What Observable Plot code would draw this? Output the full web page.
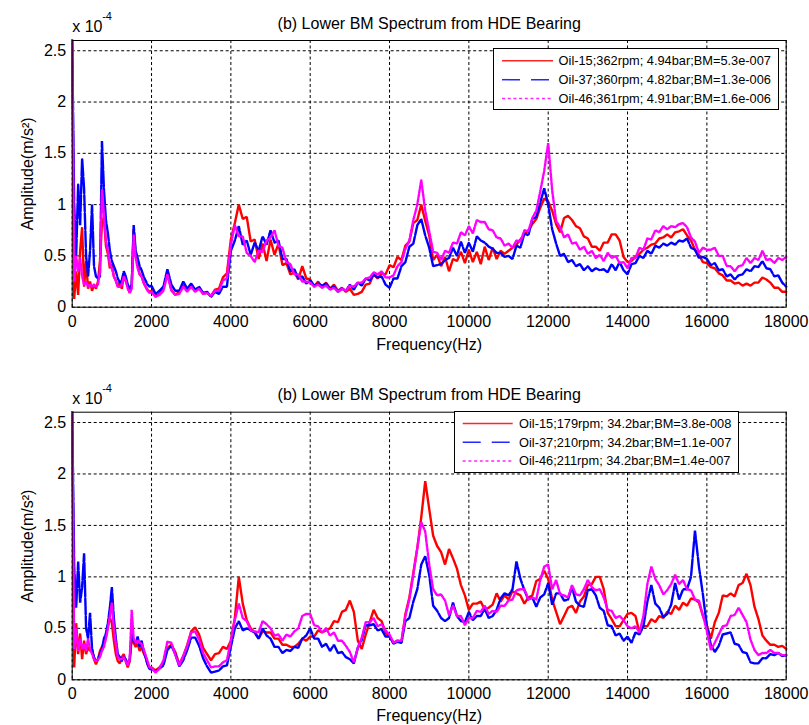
<!DOCTYPE html>
<html>
<head>
<meta charset="utf-8">
<script src="https://cdn.jsdelivr.net/npm/d3@7"></script>
<script src="https://cdn.jsdelivr.net/npm/@observablehq/plot@0.6"></script>
<style>
  body { margin: 0; background: #fff; font-family: Arial, "Liberation Sans", sans-serif; }
  .panel { position: relative; width: 809px; }
  .panel svg { display: block; }
  .legend { position: absolute; }
</style>
</head>
<body>
<div id="top" class="panel" style="height:360px"></div>
<div id="bottom" class="panel" style="height:365px"></div>
<script>
// ---------- sampling grid (Hz) ----------
const freqLow = [0,50,100,150,200,250,300,350,400,450,500,550,600,650,700,750,800,850,900,950,
  1000,1050,1100,1150,1200,1250,1300,1350,1400,1450,1500,1550,1600,1650,1700,1750,1800,1850,1900,1950];
const freqHigh = [2000,2100,2200,2300,2400,2500,2600,2700,2800,2900,3000,3100,3200,3300,3400,3500,3600,3700,3800,3900,
  4000,4100,4200,4300,4400,4500,4600,4700,4800,4900,5000,5100,5200,5300,5400,5500,5600,5700,5800,5900,
  6000,6100,6200,6300,6400,6500,6600,6700,6800,6900,7000,7100,7200,7300,7400,7500,7600,7700,7800,7900,
  8000,8100,8200,8300,8400,8500,8600,8700,8800,8900,9000,9100,9200,9300,9400,9500,9600,9700,9800,9900,
  10000,10100,10200,10300,10400,10500,10600,10700,10800,10900,11000,11100,11200,11300,11400,11500,11600,11700,11800,11900,
  12000,12100,12200,12300,12400,12500,12600,12700,12800,12900,13000,13100,13200,13300,13400,13500,13600,13700,13800,13900,
  14000,14100,14200,14300,14400,14500,14600,14700,14800,14900,15000,15100,15200,15300,15400,15500,15600,15700,15800,15900,
  16000,16100,16200,16300,16400,16500,16600,16700,16800,16900,17000,17100,17200,17300,17400,17500,17600,17700,17800,17900,
  18000];
const freq = freqLow.concat(freqHigh);

// ---------- top panel amplitudes (x 1e-4 m/s^2) ----------
const topOil15 = [2.6,0.08,0.35,0.12,0.55,0.78,0.2,0.45,0.18,0.25,0.16,0.22,0.18,0.25,0.45,0.82,0.88,0.6,0.52,0.38,
  0.42,0.3,0.26,0.2,0.24,0.18,0.3,0.26,0.2,0.14,0.2,0.76,0.5,0.42,0.32,0.3,0.24,0.2,0.17,0.15,
  0.16,0.11,0.13,0.18,0.33,0.17,0.12,0.15,0.21,0.17,
  0.22,0.16,0.19,0.13,0.14,0.11,0.17,0.18,0.29,0.33,
  0.66,0.82,1.0,0.86,0.88,0.64,0.66,0.47,0.62,0.45,
  0.66,0.51,0.62,0.41,0.43,0.32,0.34,0.27,0.4,0.28,
  0.27,0.2,0.25,0.19,0.24,0.18,0.22,0.16,0.19,0.15,
  0.18,0.12,0.13,0.15,0.22,0.23,0.32,0.28,0.33,0.32,
  0.41,0.39,0.49,0.46,0.6,0.64,0.82,0.85,1.0,0.84,
  0.7,0.46,0.51,0.4,0.49,0.35,0.47,0.45,0.54,0.43,
  0.56,0.44,0.54,0.42,0.59,0.46,0.58,0.47,0.55,0.52,
  0.55,0.58,0.61,0.66,0.71,0.75,0.81,0.86,0.97,1.06,
  1.03,0.94,0.81,0.73,0.87,0.89,0.85,0.79,0.77,0.69,
  0.67,0.59,0.59,0.55,0.63,0.63,0.71,0.71,0.65,0.49,
  0.44,0.45,0.49,0.52,0.56,0.58,0.61,0.62,0.67,0.68,
  0.71,0.68,0.73,0.74,0.76,0.7,0.65,0.56,0.51,0.44,
  0.43,0.39,0.38,0.33,0.31,0.26,0.26,0.23,0.24,0.21,
  0.23,0.21,0.24,0.24,0.29,0.27,0.24,0.19,0.19,0.15,
  0.15];
const topOil37 = [2.6,1.0,0.5,1.2,0.8,1.45,1.15,0.5,0.3,0.55,1.0,0.4,0.3,0.28,0.3,1.62,1.15,0.85,0.72,0.55,
  0.45,0.4,0.35,0.28,0.24,0.26,0.35,0.3,0.22,0.18,0.22,0.8,0.55,0.48,0.4,0.36,0.3,0.26,0.22,0.2,
  0.21,0.13,0.16,0.2,0.37,0.22,0.16,0.16,0.25,0.18,
  0.23,0.17,0.2,0.14,0.15,0.1,0.15,0.13,0.2,0.2,
  0.55,0.65,0.79,0.61,0.65,0.51,0.63,0.55,0.69,0.61,
  0.75,0.63,0.65,0.47,0.47,0.35,0.37,0.28,0.3,0.23,
  0.26,0.21,0.23,0.21,0.23,0.18,0.2,0.15,0.18,0.16,
  0.22,0.17,0.24,0.21,0.28,0.26,0.32,0.29,0.3,0.22,
  0.19,0.28,0.28,0.4,0.44,0.59,0.62,0.8,0.86,0.7,
  0.58,0.4,0.41,0.42,0.46,0.48,0.58,0.5,0.64,0.53,
  0.63,0.54,0.69,0.65,0.63,0.59,0.57,0.53,0.53,0.49,
  0.5,0.47,0.6,0.58,0.72,0.7,0.86,0.88,1.02,1.16,
  1.0,0.76,0.62,0.5,0.52,0.44,0.46,0.4,0.42,0.36,
  0.4,0.35,0.38,0.36,0.37,0.34,0.42,0.36,0.44,0.36,
  0.32,0.42,0.43,0.5,0.48,0.55,0.52,0.6,0.58,0.62,
  0.6,0.63,0.61,0.65,0.64,0.67,0.58,0.56,0.48,0.49,
  0.47,0.41,0.43,0.36,0.37,0.3,0.32,0.27,0.31,0.32,
  0.37,0.35,0.4,0.39,0.45,0.38,0.37,0.3,0.31,0.24,
  0.2];
const topOil46 = [2.6,0.25,0.5,0.35,0.48,0.3,0.22,0.25,0.2,0.22,0.2,0.22,0.2,0.22,0.35,1.15,0.9,0.65,0.55,0.42,
  0.38,0.3,0.26,0.2,0.2,0.22,0.3,0.26,0.18,0.14,0.18,0.7,0.48,0.38,0.32,0.3,0.24,0.2,0.16,0.14,
  0.15,0.1,0.12,0.16,0.32,0.16,0.12,0.13,0.2,0.15,
  0.2,0.15,0.18,0.13,0.14,0.11,0.16,0.16,0.26,0.28,
  0.61,0.8,0.69,0.69,0.53,0.5,0.44,0.55,0.54,0.65,
  0.68,0.75,0.6,0.58,0.44,0.42,0.32,0.32,0.25,0.25,
  0.24,0.2,0.22,0.19,0.21,0.17,0.19,0.15,0.18,0.16,
  0.21,0.2,0.24,0.24,0.28,0.29,0.34,0.32,0.35,0.29,
  0.29,0.31,0.4,0.44,0.57,0.65,0.85,1.0,1.24,0.94,
  0.74,0.54,0.53,0.46,0.55,0.53,0.63,0.62,0.73,0.7,
  0.79,0.72,0.85,0.83,0.83,0.76,0.75,0.68,0.67,0.6,
  0.62,0.58,0.65,0.64,0.75,0.74,0.87,0.94,1.13,1.33,
  1.6,1.14,0.84,0.78,0.68,0.71,0.62,0.63,0.56,0.59,
  0.52,0.55,0.48,0.51,0.45,0.53,0.48,0.5,0.43,0.44,
  0.38,0.48,0.48,0.58,0.56,0.67,0.66,0.75,0.73,0.79,
  0.76,0.79,0.78,0.81,0.82,0.78,0.68,0.64,0.53,0.58,
  0.56,0.56,0.58,0.5,0.5,0.4,0.4,0.35,0.4,0.41,
  0.48,0.43,0.48,0.46,0.55,0.46,0.47,0.43,0.48,0.46,
  0.49];

// ---------- bottom panel amplitudes (x 1e-4 m/s^2) ----------
const botOil15 = [2.6,0.12,0.55,0.25,0.45,0.2,0.38,0.25,0.32,0.28,0.3,0.2,0.15,0.2,0.28,0.32,0.35,0.42,0.52,0.6,
  0.55,0.38,0.25,0.18,0.16,0.22,0.25,0.18,0.12,0.18,0.4,0.36,0.32,0.35,0.28,0.32,0.26,0.22,0.15,0.12,
  0.12,0.09,0.12,0.16,0.31,0.34,0.27,0.15,0.23,0.34,
  0.47,0.51,0.44,0.31,0.25,0.19,0.25,0.26,0.32,0.3,
  0.38,0.6,1.0,0.74,0.58,0.5,0.46,0.4,0.47,0.46,
  0.46,0.4,0.4,0.34,0.34,0.32,0.32,0.35,0.4,0.38,
  0.42,0.42,0.48,0.46,0.48,0.5,0.57,0.56,0.66,0.68,
  0.77,0.66,0.38,0.3,0.44,0.56,0.68,0.6,0.57,0.46,
  0.42,0.36,0.38,0.36,0.64,0.8,1.04,1.28,1.58,1.93,
  1.66,1.4,1.3,1.24,1.12,1.27,1.18,1.08,0.92,0.82,
  0.68,0.74,0.74,0.76,0.68,0.7,0.73,0.84,0.76,0.82,
  0.78,0.86,0.84,0.82,0.74,0.8,0.82,0.96,0.98,1.06,
  0.98,0.78,0.66,0.54,0.62,0.7,0.72,0.65,0.76,0.81,
  0.92,0.93,1.0,1.0,0.88,0.65,0.59,0.52,0.52,0.58,
  0.64,0.65,0.62,0.46,0.52,0.52,0.59,0.56,0.62,0.6,
  0.66,0.64,0.72,0.68,0.75,0.72,0.79,0.78,0.75,0.62,
  0.53,0.4,0.56,0.65,0.82,0.81,0.84,0.81,0.92,0.94,
  1.03,0.92,0.71,0.59,0.43,0.38,0.34,0.34,0.32,0.33,
  0.3];
const botOil37 = [2.6,1.1,0.7,1.15,0.75,0.9,1.23,0.5,0.4,0.65,0.3,0.22,0.18,0.2,0.25,0.3,0.4,0.45,0.55,0.7,
  0.9,0.6,0.4,0.25,0.22,0.18,0.22,0.2,0.15,0.2,0.45,0.38,0.35,0.42,0.32,0.38,0.28,0.22,0.15,0.1,
  0.11,0.08,0.11,0.14,0.29,0.33,0.25,0.13,0.19,0.29,
  0.41,0.41,0.33,0.21,0.13,0.07,0.08,0.09,0.13,0.14,
  0.32,0.5,0.57,0.48,0.5,0.48,0.46,0.4,0.5,0.43,
  0.4,0.32,0.32,0.26,0.29,0.28,0.32,0.31,0.4,0.43,
  0.5,0.4,0.4,0.32,0.35,0.28,0.34,0.26,0.27,0.22,
  0.2,0.16,0.31,0.39,0.53,0.53,0.54,0.48,0.49,0.42,
  0.42,0.35,0.37,0.36,0.57,0.6,0.76,0.88,1.12,1.2,
  1.02,0.72,0.67,0.6,0.57,0.6,0.75,0.62,0.57,0.56,
  0.66,0.58,0.62,0.62,0.69,0.6,0.62,0.68,0.79,0.84,
  0.82,0.88,1.15,0.98,0.87,0.78,0.8,0.71,0.8,0.83,
  0.94,0.73,0.84,0.84,0.77,0.78,0.9,0.76,0.72,0.71,
  0.87,0.88,0.82,0.7,0.67,0.53,0.52,0.43,0.45,0.38,
  0.42,0.36,0.46,0.44,0.52,0.76,0.92,0.74,0.7,0.61,
  0.64,0.73,0.94,0.78,0.88,0.88,1.0,1.45,1.1,0.83,
  0.52,0.34,0.27,0.33,0.44,0.45,0.46,0.35,0.34,0.27,
  0.26,0.17,0.16,0.16,0.21,0.21,0.25,0.24,0.26,0.23,
  0.24];
const botOil46 = [2.6,0.3,0.5,0.28,0.4,0.3,0.35,0.28,0.4,0.3,0.25,0.2,0.18,0.2,0.22,0.28,0.32,0.4,0.5,0.62,
  0.75,0.5,0.35,0.22,0.2,0.2,0.22,0.18,0.14,0.2,0.68,0.4,0.36,0.38,0.36,0.35,0.3,0.24,0.18,0.12,
  0.12,0.07,0.11,0.19,0.37,0.36,0.24,0.14,0.23,0.33,
  0.46,0.47,0.39,0.26,0.19,0.12,0.13,0.13,0.17,0.19,
  0.38,0.58,0.74,0.6,0.57,0.48,0.47,0.46,0.57,0.54,
  0.5,0.43,0.44,0.38,0.44,0.42,0.47,0.5,0.62,0.64,
  0.64,0.53,0.52,0.46,0.5,0.43,0.46,0.38,0.38,0.33,
  0.27,0.17,0.31,0.41,0.56,0.56,0.6,0.52,0.54,0.48,
  0.44,0.36,0.38,0.38,0.62,0.78,1.02,1.28,1.53,1.44,
  1.12,0.88,0.82,0.83,0.77,0.63,0.72,0.62,0.62,0.53,
  0.6,0.6,0.67,0.66,0.72,0.64,0.67,0.66,0.72,0.72,
  0.77,0.78,0.87,0.88,0.88,0.78,0.8,0.78,0.97,1.1,
  1.12,0.88,0.97,0.83,0.82,0.8,0.92,0.83,0.82,0.88,
  0.97,0.9,0.87,0.88,0.8,0.68,0.67,0.6,0.62,0.58,
  0.52,0.5,0.52,0.46,0.62,0.93,1.1,0.98,0.92,0.83,
  0.87,0.93,1.02,0.93,0.97,0.88,0.87,0.78,0.77,0.63,
  0.47,0.29,0.36,0.44,0.52,0.53,0.62,0.63,0.7,0.63,
  0.56,0.39,0.29,0.24,0.26,0.26,0.29,0.26,0.26,0.24,
  0.24];

// ---------- labels & ticks ----------
const titleText = "(b) Lower BM Spectrum from HDE Bearing";
const xLabel = "Frequency(Hz)";
const yLabel = "Amplitude(m/s²)";
const xTicks = [0,2000,4000,6000,8000,10000,12000,14000,16000,18000];
const yTicks = [0,0.5,1,1.5,2,2.5];
const topLegend = ["Oil-15;362rpm; 4.94bar;BM=5.3e-007","Oil-37;360rpm; 4.82bar;BM=1.3e-006","Oil-46;361rpm; 4.91bar;BM=1.6e-006"];
const botLegend = ["Oil-15;179rpm; 34.2bar;BM=3.8e-008","Oil-37;210rpm; 34.2bar;BM=1.1e-007","Oil-46;211rpm; 34.2bar;BM=1.4e-007"];
const colors = ["#ff0000","#0000ff","#ff00ff"];
const legendDashes = [null, "18,11", "3,2.7"];
const lineDashes = [null, "16,2", "3,1.5"];

const FONT = "Arial, 'Liberation Sans', sans-serif";

function makePanel(el, seriesList, legendLabels, cfg) {
  const marks = [
    Plot.gridX(xTicks, {stroke: "#000", strokeOpacity: 1, strokeWidth: 1, strokeDasharray: "3,2.5"}),
    Plot.gridY(yTicks, {stroke: "#000", strokeOpacity: 1, strokeWidth: 1, strokeDasharray: "3,2.5"})
  ];
  seriesList.forEach((vals, i) => {
    const n = Math.min(vals.length, freq.length);
    const rows = d3.range(n).map(k => ({f: freq[k], v: vals[k]}));
    marks.push(Plot.lineY(rows, {x: "f", y: "v", stroke: colors[i], strokeWidth: 2.4,
      strokeLinejoin: "miter", strokeDasharray: lineDashes[i] || undefined}));
  });
  marks.push(
    Plot.frame({stroke: "#000", strokeWidth: 1}),
    Plot.axisX(xTicks, {tickSize: 0, tickPadding: 8, tickFormat: d => String(d), label: null, fontSize: 16}),
    Plot.axisY(yTicks, {tickSize: 0, tickPadding: 6, tickFormat: d => String(d), label: null, fontSize: 16}),
    Plot.text([titleText], {text: d => d, frameAnchor: "top", dy: -12, lineAnchor: "bottom", fontSize: 16}),
    Plot.text(["x 10"], {text: d => d, frameAnchor: "top-left", textAnchor: "start", dy: -8.3, lineAnchor: "bottom", fontSize: 16}),
    Plot.text(["-4"], {text: d => d, frameAnchor: "top-left", textAnchor: "start", dx: 30, dy: -20.5, lineAnchor: "bottom", fontSize: 11}),
    Plot.text([xLabel], {text: d => d, frameAnchor: "bottom", dy: cfg.xLabelDy, lineAnchor: "bottom", fontSize: 16}),
    Plot.text([yLabel], {text: d => d, frameAnchor: "left", dx: -44.5, rotate: -90, lineAnchor: "middle", textAnchor: "middle", fontSize: 16})
  );
  const chart = Plot.plot({
    width: 809, height: cfg.height,
    marginLeft: 71.7, marginRight: 23.3, marginTop: cfg.mt, marginBottom: cfg.mb,
    x: {domain: [0, 18000]},
    y: {domain: [0, 2.6]},
    style: {fontFamily: FONT, fontSize: "16px", color: "#000", background: "#fff", overflow: "visible"},
    marks
  });
  el.appendChild(chart);

  // legend box (overlay)
  const lg = cfg.legend;
  const svg = d3.select(el).append("svg").attr("class", "legend")
    .style("left", lg.left + "px").style("top", lg.top + "px")
    .attr("width", lg.w).attr("height", lg.h)
    .style("font-family", FONT).style("font-size", "12.8px");
  svg.append("rect").attr("x", 0.5).attr("y", 0.5).attr("width", lg.w - 1).attr("height", lg.h - 1)
    .attr("fill", "#fff").attr("stroke", "#000").attr("stroke-width", 1);
  legendLabels.forEach((lab, i) => {
    const y = lg.rows[i];
    svg.append("line").attr("x1", lg.x1).attr("x2", lg.x2).attr("y1", y).attr("y2", y)
      .attr("stroke", colors[i]).attr("stroke-width", 1.5).attr("stroke-opacity", 0.85)
      .attr("stroke-dasharray", legendDashes[i]);
    svg.append("text").attr("x", lg.tx).attr("y", y).attr("dy", "0.35em").attr("fill", "#000").text(lab);
  });
}

makePanel(document.getElementById("top"), [topOil15, topOil37, topOil46], topLegend, {
  height: 360, mt: 40, mb: 53.3, xLabelDy: 42.6,
  legend: {left: 492.7, top: 48.3, w: 286, h: 62, x1: 9, x2: 60, tx: 65.6, rows: [12.7, 31.7, 50.4]}
});
makePanel(document.getElementById("bottom"), [botOil15, botOil37, botOil46], botLegend, {
  height: 365, mt: 51.7, mb: 45.7, xLabelDy: 41.4,
  legend: {left: 454.3, top: 50.7, w: 285, h: 62, x1: 8.7, x2: 58.7, tx: 65, rows: [12.6, 31.3, 50]}
});
</script>
</body>
</html>
